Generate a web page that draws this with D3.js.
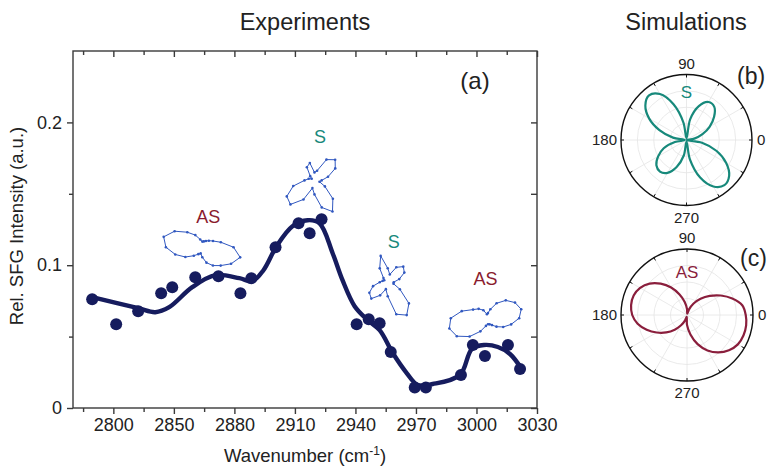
<!DOCTYPE html>
<html>
<head>
<meta charset="utf-8">
<script src="https://cdn.jsdelivr.net/npm/d3@7/dist/d3.min.js"></script>
<style>
  html, body { margin: 0; padding: 0; background: #fff; }
  svg { display: block; }
  text { font-family: "Liberation Sans", Arial, Helvetica, sans-serif; }
</style>
</head>
<body>
<svg id="chart" width="768" height="466"></svg>
<script>
// ---- Measured SFG intensities (panel a) ----
const wavenumbers = [2809.5, 2821.4, 2832.3, 2843.7, 2849.2, 2860.6, 2872.1, 2883.0, 2888.4, 2900.4,
  2911.8, 2917.3, 2923.2, 2940.6, 2946.6, 2952.0, 2957.5, 2969.4, 2974.9, 2992.3, 2998.2, 3004.2, 3015.6, 3021.6];
const intensities = [0.0762, 0.0587, 0.0678, 0.0804, 0.0846, 0.0916, 0.0923, 0.0804, 0.0909, 0.1126,
  0.1294, 0.1224, 0.1322, 0.0587, 0.0622, 0.0594, 0.0392, 0.0143, 0.0143, 0.0231, 0.0441, 0.0364, 0.0441, 0.0273];

// ---- Smoothed fit through the measurements ----
const fitWavenumbers = [2809.5, 2832.3, 2840.8, 2847.7, 2859.1, 2870.6, 2882.5, 2888.9, 2894.4, 2900.9,
  2908.8, 2916.3, 2922.2, 2928.7, 2933.6, 2939.6, 2946.1, 2952.0, 2958.5, 2965.4, 2970.9, 2978.3,
  2991.8, 2997.7, 3003.7, 3010.6, 3016.6, 3022.1];
const fitIntensities = [0.0776, 0.0699, 0.0671, 0.0706, 0.0846, 0.0930, 0.0909, 0.0888, 0.0965, 0.1133,
  0.1273, 0.1315, 0.1294, 0.1084, 0.0895, 0.0713, 0.0615, 0.0545, 0.0385, 0.0245, 0.0161, 0.0168,
  0.0231, 0.0413, 0.0441, 0.0427, 0.0378, 0.0280];

// ---- Axis ticks ----
const xTickValues = [2820, 2850, 2880, 2910, 2940, 2970, 3000, 3030];
const xTickLabels = ["2800", "2850", "2880", "2910", "2940", "2970", "3000", "3030"];
const xMinorTicks = [2805, 2835, 2865, 2895, 2925, 2955, 2985, 3015];
const yTickValues = [0, 0.1, 0.2];
const yTickLabels = ["0", "0.1", "0.2"];
const yMinorTicks = [0.05, 0.15];

// ---- Measured polarization patterns (radius vs. angle, every 15 deg) ----
const patternAngles = d3.range(0, 360, 15);
const patternAS1 = [0.78, 0.48, 0.31, 0.23, 0.18, 0.15, 0.14, 0.20, 0.35, 0.53, 0.80, 1.00,
  0.91, 0.70, 0.49, 0.30, 0.20, 0.16, 0.25, 0.40, 0.53, 0.65, 0.83, 0.98];
const patternS1 = [0.18, 0.35, 0.60, 0.73, 0.60, 0.25, 0.20, 0.45, 0.38, 0.15, 0.08, 0.15,
  0.25, 0.55, 0.80, 0.85, 0.55, 0.20, 0.35, 0.70, 0.90, 0.65, 0.30, 0.13];
const patternS2 = [0.15, 0.30, 0.48, 0.55, 0.43, 0.20, 0.35, 0.68, 0.40, 0.15, 0.10, 0.13,
  0.20, 0.38, 0.53, 0.58, 0.38, 0.18, 0.35, 0.83, 0.95, 0.75, 0.35, 0.15];
const patternAS2 = [0.78, 0.86, 0.78, 0.63, 0.43, 0.23, 0.13, 0.10, 0.23, 0.33, 0.43, 0.68,
  0.93, 1.00, 0.90, 0.65, 0.38, 0.20, 0.15, 0.16, 0.20, 0.30, 0.44, 0.60];

// ---- Simulated polarization patterns (radius vs. angle, every 10 deg) ----
const simAngles = d3.range(0, 360, 10);
const simS = [0.00, 0.12, 0.26, 0.41, 0.55, 0.66, 0.67, 0.55, 0.32, 0.03,
  0.27, 0.58, 0.81, 0.89, 0.82, 0.66, 0.44, 0.21, 0.03, 0.18, 0.37, 0.50, 0.60, 0.63,
  0.58, 0.44, 0.24, 0.03, 0.30, 0.61, 0.82, 0.90, 0.85, 0.70, 0.49, 0.24];
const simAS = [0.89, 0.85, 0.73, 0.59, 0.45, 0.32, 0.20, 0.09, 0.02, 0.09,
  0.20, 0.33, 0.48, 0.62, 0.74, 0.82, 0.86, 0.86, 0.83, 0.76, 0.65, 0.53, 0.41, 0.29,
  0.18, 0.09, 0.03, 0.15, 0.30, 0.47, 0.62, 0.74, 0.83, 0.89, 0.91, 0.91];

// ---- Colours ----
const navy = "#161c5e";
const patternBlue = "#3158c0";
const teal = "#17897b";
const wine = "#8a1b2e";
const simWine = "#8a1e3c";
const axisGrey = "#3a3a3a";
const textGrey = "#222";

const svg = d3.select("#chart");

// ================= Panel (a) =================
const plot = { left: 73, right: 537, top: 51, bottom: 408 };
const x = d3.scaleLinear().domain([2800, 3030]).range([plot.left, plot.right]);
const y = d3.scaleLinear().domain([0, 0.25]).range([plot.bottom, plot.top]);

const g = svg.append("g");

// frame
g.append("rect")
  .attr("x", plot.left).attr("y", plot.top)
  .attr("width", plot.right - plot.left).attr("height", plot.bottom - plot.top)
  .attr("fill", "none").attr("stroke", axisGrey).attr("stroke-width", 1.4);

// bottom axis (outward ticks)
const xAxis = d3.axisBottom(x).tickValues(xTickValues)
  .tickFormat((d, i) => xTickLabels[i]).tickSize(6).tickPadding(4);
const gx = g.append("g").attr("transform", `translate(0,${plot.bottom})`).call(xAxis);
gx.select(".domain").remove();
gx.selectAll("line").attr("stroke", axisGrey).attr("stroke-width", 1.4);
gx.selectAll("text").attr("font-size", 18).attr("fill", textGrey);
const gxm = g.append("g").attr("transform", `translate(0,${plot.bottom})`)
  .call(d3.axisBottom(x).tickValues(xMinorTicks).tickSize(4).tickFormat(""));
gxm.select(".domain").remove();
gxm.selectAll("line").attr("stroke", axisGrey).attr("stroke-width", 1.4);

// top axis (inward ticks)
const gt = g.append("g").attr("transform", `translate(0,${plot.top})`)
  .call(d3.axisTop(x).tickValues(xTickValues).tickSize(-6).tickFormat(""));
gt.select(".domain").remove();
gt.selectAll("line").attr("stroke", axisGrey).attr("stroke-width", 1.4);
const gtm = g.append("g").attr("transform", `translate(0,${plot.top})`)
  .call(d3.axisTop(x).tickValues(xMinorTicks).tickSize(-4).tickFormat(""));
gtm.select(".domain").remove();
gtm.selectAll("line").attr("stroke", axisGrey).attr("stroke-width", 1.4);

// left axis (outward ticks)
const gy = g.append("g").attr("transform", `translate(${plot.left},0)`)
  .call(d3.axisLeft(y).tickValues(yTickValues).tickFormat((d, i) => yTickLabels[i]).tickSize(6).tickPadding(5));
gy.select(".domain").remove();
gy.selectAll("line").attr("stroke", axisGrey).attr("stroke-width", 1.4);
gy.selectAll("text").attr("font-size", 18).attr("fill", textGrey);
const gym = g.append("g").attr("transform", `translate(${plot.left},0)`)
  .call(d3.axisLeft(y).tickValues(yMinorTicks).tickSize(4).tickFormat(""));
gym.select(".domain").remove();
gym.selectAll("line").attr("stroke", axisGrey).attr("stroke-width", 1.4);

// right axis (inward ticks)
const gr = g.append("g").attr("transform", `translate(${plot.right},0)`)
  .call(d3.axisRight(y).tickValues(yTickValues.concat(yMinorTicks)).tickSize(-6).tickFormat(""));
gr.select(".domain").remove();
gr.selectAll("line").attr("stroke", axisGrey).attr("stroke-width", 1.4);

// axis titles
g.append("text")
  .attr("x", 305).attr("y", 462)
  .attr("text-anchor", "middle").attr("font-size", 18.5).attr("fill", textGrey)
  .text("Wavenumber (cm")
  .append("tspan").attr("baseline-shift", "super").attr("font-size", 12).text("-1")
  .select(function () { return this.parentNode; })
  .append("tspan").text(")");

g.append("text")
  .attr("transform", "translate(23,226) rotate(-90)")
  .attr("text-anchor", "middle").attr("font-size", 18.5).attr("fill", textGrey)
  .text("Rel. SFG Intensity (a.u.)");

// titles
svg.append("text").attr("x", 305).attr("y", 30).attr("text-anchor", "middle")
  .attr("font-size", 23.5).attr("fill", textGrey).text("Experiments");
svg.append("text").attr("x", 686).attr("y", 30).attr("text-anchor", "middle")
  .attr("font-size", 23.5).attr("fill", textGrey).text("Simulations");

g.append("text").attr("x", 475).attr("y", 89).attr("text-anchor", "middle")
  .attr("font-size", 24).attr("fill", textGrey).text("(a)");

// fitted curve
const fitData = fitWavenumbers.map((w, i) => ({ w, v: fitIntensities[i] }));
g.append("path")
  .datum(fitData)
  .attr("fill", "none").attr("stroke", navy).attr("stroke-width", 4.4)
  .attr("stroke-linecap", "round").attr("stroke-linejoin", "round")
  .attr("d", d3.line().x(d => x(d.w)).y(d => y(d.v)).curve(d3.curveCatmullRom.alpha(0.5)));

// measured points
g.selectAll("circle.pt")
  .data(wavenumbers.map((w, i) => ({ w, v: intensities[i] })))
  .join("circle").attr("class", "pt")
  .attr("cx", d => x(d.w)).attr("cy", d => y(d.v)).attr("r", 6)
  .attr("fill", navy);

// polarization insets drawn beside the bands
function drawPattern(parent, radii, angles, cx, cy, size, color, dotR) {
  const r = d3.scaleLinear().domain([0, 1]).range([0, size]);
  const pts = radii.map((v, i) => {
    const a = angles[i] * Math.PI / 180;
    return [cx + r(v) * Math.cos(a), cy - r(v) * Math.sin(a)];
  });
  parent.append("path")
    .attr("d", d3.line().curve(d3.curveLinearClosed)(pts))
    .attr("fill", "none").attr("stroke", color).attr("stroke-width", 1);
  parent.selectAll(null).data(pts).join("circle")
    .attr("cx", d => d[0]).attr("cy", d => d[1]).attr("r", dotR).attr("fill", color);
}

const insets = [
  { radii: patternAS1, w: 2864.1, v: 0.1126, size: 40, label: "AS", color: wine, lw: 2867, lv: 0.1295 },
  { radii: patternS1, w: 2919.7, v: 0.1594, size: 40, label: "S", color: teal, lw: 2922.5, lv: 0.1853 },
  { radii: patternS2, w: 2956.0, v: 0.0881, size: 40, label: "S", color: teal, lw: 2959, lv: 0.1118 },
  { radii: patternAS2, w: 3005.7, v: 0.0629, size: 40, label: "AS", color: wine, lw: 3004.5, lv: 0.0860 }
];
insets.forEach(ins => {
  const ig = g.append("g");
  drawPattern(ig, ins.radii, patternAngles, x(ins.w), y(ins.v), ins.size, patternBlue, 1.3);
  g.append("text").attr("x", x(ins.lw)).attr("y", y(ins.lv))
    .attr("text-anchor", "middle").attr("font-size", 18).attr("fill", ins.color).text(ins.label);
});

// ================= Panels (b) and (c): simulated polar plots =================
function polarPanel(cx, cy, R, radii, color, tag, tagX, tagY, label, labelY) {
  const pg = svg.append("g");
  const r = d3.scaleLinear().domain([0, 1]).range([0, R]);
  // grid
  [0.25, 0.5, 0.75].forEach(f => {
    pg.append("circle").attr("cx", cx).attr("cy", cy).attr("r", r(f))
      .attr("fill", "none").attr("stroke", "#e4e4e4").attr("stroke-width", 0.8);
  });
  d3.range(0, 180, 30).forEach(a => {
    const t = a * Math.PI / 180;
    pg.append("line")
      .attr("x1", cx - R * Math.cos(t)).attr("y1", cy + R * Math.sin(t))
      .attr("x2", cx + R * Math.cos(t)).attr("y2", cy - R * Math.sin(t))
      .attr("stroke", "#e4e4e4").attr("stroke-width", 0.8);
  });
  // outer ring with ticks
  pg.append("circle").attr("cx", cx).attr("cy", cy).attr("r", R)
    .attr("fill", "none").attr("stroke", "#111").attr("stroke-width", 1.4);
  d3.range(0, 360, 30).forEach(a => {
    const t = a * Math.PI / 180;
    pg.append("line")
      .attr("x1", cx + (R - 3) * Math.cos(t)).attr("y1", cy - (R - 3) * Math.sin(t))
      .attr("x2", cx + R * Math.cos(t)).attr("y2", cy - R * Math.sin(t))
      .attr("stroke", "#111").attr("stroke-width", 1);
  });
  // angle labels
  const lab = [["90", cx, cy - R - 6, "middle"], ["270", cx, cy + R + 17, "middle"],
               ["180", cx - R - 4, cy + 5, "end"], ["0", cx + R + 5, cy + 5, "start"]];
  lab.forEach(l => pg.append("text").attr("x", l[1]).attr("y", l[2]).attr("text-anchor", l[3])
    .attr("font-size", 15).attr("fill", textGrey).text(l[0]));
  // simulated curve
  const pts = radii.map((v, i) => {
    const t = simAngles[i] * Math.PI / 180;
    return [cx + r(v) * Math.cos(t), cy - r(v) * Math.sin(t)];
  });
  pg.append("path").attr("d", d3.line().curve(d3.curveCatmullRomClosed.alpha(0.5))(pts))
    .attr("fill", "none").attr("stroke", color).attr("stroke-width", 2.2);
  pg.append("text").attr("x", cx).attr("y", labelY).attr("text-anchor", "middle")
    .attr("font-size", 17).attr("fill", color).text(label);
  pg.append("text").attr("x", tagX).attr("y", tagY).attr("text-anchor", "start")
    .attr("font-size", 23).attr("fill", textGrey).text(tag);
}

polarPanel(686.5, 140, 65.5, simS, teal, "(b)", 737, 84, "S", 98);
polarPanel(687, 315, 66, simAS, simWine, "(c)", 740, 266, "AS", 278);
</script>
</body>
</html>
